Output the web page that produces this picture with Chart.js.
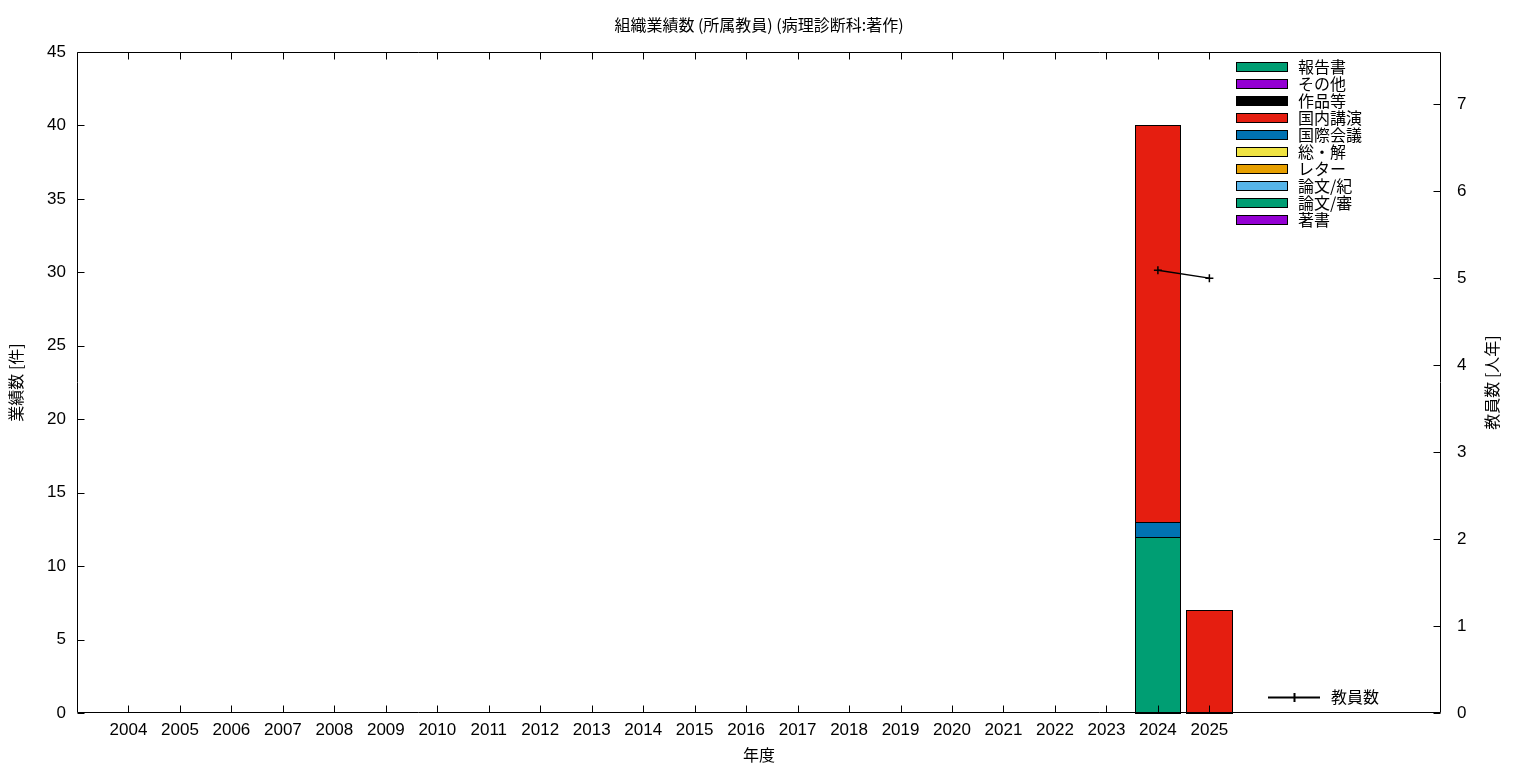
<!DOCTYPE html>
<html>
<head>
<meta charset="utf-8">
<script src="https://cdn.jsdelivr.net/npm/chart.js@4/dist/chart.umd.min.js"></script>
<style>
  html, body { margin: 0; padding: 0; background: #fff; }
</style>
</head>
<body>
<canvas id="chart" width="1536" height="768"></canvas>
<script>
const chartTitle = '組織業績数 (所属教員) (病理診断科:著作)';
const years = ['2004', '2005', '2006', '2007', '2008', '2009', '2010', '2011', '2012', '2013', '2014',
               '2015', '2016', '2017', '2018', '2019', '2020', '2021', '2022', '2023', '2024', '2025'];

// stacked bottom -> top
const seriesNames = ['著書', '論文/審', '論文/紀', 'レター', '総・解', '国際会議', '国内講演', '作品等', 'その他', '報告書'];
const chosho   = [0, 0, 0, 0, 0, 0, 0, 0, 0, 0, 0, 0, 0, 0, 0, 0, 0, 0, 0, 0, 0, 0];
const ronShin  = [0, 0, 0, 0, 0, 0, 0, 0, 0, 0, 0, 0, 0, 0, 0, 0, 0, 0, 0, 0, 12, 0];
const ronKiyo  = [0, 0, 0, 0, 0, 0, 0, 0, 0, 0, 0, 0, 0, 0, 0, 0, 0, 0, 0, 0, 0, 0];
const letter   = [0, 0, 0, 0, 0, 0, 0, 0, 0, 0, 0, 0, 0, 0, 0, 0, 0, 0, 0, 0, 0, 0];
const sokai    = [0, 0, 0, 0, 0, 0, 0, 0, 0, 0, 0, 0, 0, 0, 0, 0, 0, 0, 0, 0, 0, 0];
const kokusai  = [0, 0, 0, 0, 0, 0, 0, 0, 0, 0, 0, 0, 0, 0, 0, 0, 0, 0, 0, 0, 1, 0];
const kokunai  = [0, 0, 0, 0, 0, 0, 0, 0, 0, 0, 0, 0, 0, 0, 0, 0, 0, 0, 0, 0, 27, 7];
const sakuhin  = [0, 0, 0, 0, 0, 0, 0, 0, 0, 0, 0, 0, 0, 0, 0, 0, 0, 0, 0, 0, 0, 0];
const sonota   = [0, 0, 0, 0, 0, 0, 0, 0, 0, 0, 0, 0, 0, 0, 0, 0, 0, 0, 0, 0, 0, 0];
const hokoku   = [0, 0, 0, 0, 0, 0, 0, 0, 0, 0, 0, 0, 0, 0, 0, 0, 0, 0, 0, 0, 0, 0];
const seriesValues = [chosho, ronShin, ronKiyo, letter, sokai, kokusai, kokunai, sakuhin, sonota, hokoku];

const lineName = '教員数';
const teachers = [null, null, null, null, null, null, null, null, null, null, null,
                  null, null, null, null, null, null, null, null, null, 5.09, 5.0];

const seriesColors = ['#9400d3', '#009e73', '#56b4e9', '#e69f00', '#f0e442', '#0072b2', '#e51e10', '#000000', '#9400d3', '#009e73'];

const jpFont = '"Noto Sans CJK JP", "Liberation Sans", sans-serif';
const numFont = '"Liberation Sans", "Noto Sans CJK JP", sans-serif';

Chart.defaults.color = '#000';

const datasets = seriesNames.map((name, k) => ({
    type: 'bar',
    label: name,
    data: seriesValues[k].map((v, i) => ({x: i, y: v})),
    backgroundColor: seriesColors[k],
    borderWidth: 0,
    inflateAmount: 0,
    barPercentage: 0.9,
    categoryPercentage: 1.0,
    yAxisID: 'y'
}));

datasets.push({
    type: 'line',
    label: lineName,
    data: teachers.map((v, i) => ({x: i, y: v})),
    borderColor: '#000',
    backgroundColor: '#000',
    borderWidth: 1.5,
    pointStyle: 'cross',
    pointRadius: 4,
    pointBorderWidth: 1.5,
    yAxisID: 'y2',
    order: -1
});

// bar outlines, frame, inward ticks, title, right title and legends
const decorPlugin = {
    id: 'decor',
    beforeDatasetDraw(chart, args) {
        // outline bars right after their fill, like gnuplot boxes
        const ds = chart.data.datasets[args.index];
        if (ds.type !== 'bar') return;
        const ctx = chart.ctx;
        ctx.save();
        ctx.strokeStyle = '#000';
        ctx.lineWidth = 1;
        args.meta.data.forEach(bar => {
            const p = bar.getProps(['x', 'y', 'base', 'width']);
            if (Math.abs(p.base - p.y) < 0.5) return;
            const x0 = Math.round(p.x - p.width / 2), x1 = Math.round(p.x + p.width / 2);
            const y0 = Math.round(Math.min(p.y, p.base)), y1 = Math.round(Math.max(p.y, p.base));
            ctx.fillStyle = ds.backgroundColor;
            ctx.fillRect(x0, y0, x1 - x0, y1 - y0);
            ctx.strokeRect(x0 + 0.5, y0 + 0.5, x1 - x0 - 1, y1 - y0);
        });
        ctx.restore();
        return false;
    },
    afterDatasetsDraw(chart) {
        const {ctx, chartArea: a, scales} = chart;
        const L = Math.round(a.left) + 0.5, R = Math.round(a.right) - 0.5;
        const T = Math.round(a.top) + 0.5, B = Math.round(a.bottom) - 0.5;
        const tl = 7;
        ctx.save();
        ctx.strokeStyle = '#000';
        ctx.lineWidth = 1;
        ctx.beginPath();
        ctx.rect(L, T, R - L, B - T);
        scales.y.ticks.forEach(t => {
            const y = Math.round(scales.y.getPixelForValue(t.value)) + 0.5;
            ctx.moveTo(L, y); ctx.lineTo(L + tl, y);
        });
        scales.y2.ticks.forEach(t => {
            const y = Math.round(scales.y2.getPixelForValue(t.value)) + 0.5;
            ctx.moveTo(R, y); ctx.lineTo(R - tl, y);
        });
        years.forEach((yr, i) => {
            const x = Math.round(scales.x.getPixelForValue(i)) + 0.5;
            ctx.moveTo(x, B); ctx.lineTo(x, B - tl);
            ctx.moveTo(x, T); ctx.lineTo(x, T + tl);
        });
        ctx.stroke();

        // title
        ctx.fillStyle = '#000';
        ctx.font = '16px ' + jpFont;
        ctx.textAlign = 'center';
        ctx.textBaseline = 'middle';
        ctx.fillText(chartTitle, (a.left + a.right) / 2, 25);

        // right axis title, reads bottom to top
        ctx.save();
        ctx.translate(1492, (a.top + a.bottom) / 2);
        ctx.rotate(-Math.PI / 2);
        ctx.fillText('教員数 [人年]', 0, 0);
        ctx.restore();

        // bar legend (reverse of stacking order)
        ctx.textAlign = 'left';
        const bars = chart.data.datasets.filter(d => d.type === 'bar').slice().reverse();
        bars.forEach((d, i) => {
            const cy = 67 + i * 17;
            ctx.fillStyle = d.backgroundColor;
            ctx.fillRect(1237, cy - 4, 50, 8);
            ctx.strokeStyle = '#000';
            ctx.strokeRect(1236.5, cy - 4.5, 51, 9);
            ctx.fillStyle = '#000';
            ctx.fillText(d.label, 1298, cy);
        });

        // line legend
        ctx.lineWidth = 2;
        ctx.beginPath();
        ctx.moveTo(1268, 697.5); ctx.lineTo(1320, 697.5);
        ctx.moveTo(1294.5, 693); ctx.lineTo(1294.5, 702);
        ctx.stroke();
        ctx.fillText(lineName, 1331, 697);
        ctx.restore();
    }
};

new Chart(document.getElementById('chart'), {
    data: {datasets: datasets},
    options: {
        responsive: false,
        animation: false,
        layout: {padding: {top: 52, left: 0, right: 0, bottom: 0}},
        plugins: {
            legend: {display: false},
            tooltip: {enabled: false},
            title: {display: false}
        },
        scales: {
            x: {
                type: 'linear',
                offset: false,
                stacked: true,
                min: -1,
                max: 25.5,
                grid: {display: false, drawTicks: false, offset: false},
                border: {display: false},
                ticks: {
                    stepSize: 1,
                    includeBounds: false,
                    autoSkip: false,
                    maxRotation: 0,
                    padding: 7,
                    font: {family: numFont, size: 17},
                    callback: v => (Number.isInteger(v) && years[v]) ? years[v] : ''
                },
                title: {display: true, text: '年度', font: {family: jpFont, size: 16}, padding: {top: 0, bottom: 3}},
                afterFit: s => { s.height = 55; }
            },
            y: {
                position: 'left',
                stacked: true,
                min: 0,
                max: 45,
                grid: {display: false, drawTicks: false},
                border: {display: false},
                ticks: {stepSize: 5, padding: 11, font: {family: numFont, size: 17}},
                title: {display: true, text: '業績数 [件]', font: {family: jpFont, size: 16}, padding: {top: 6, bottom: 0}},
                afterFit: s => { s.width = 77; }
            },
            y2: {
                position: 'right',
                min: 0,
                max: 7.6,
                grid: {display: false, drawTicks: false},
                border: {display: false},
                ticks: {stepSize: 1, includeBounds: false, padding: 16, font: {family: numFont, size: 17}},
                afterFit: s => { s.width = 95; }
            }
        }
    },
    plugins: [decorPlugin]
});
</script>
</body>
</html>
